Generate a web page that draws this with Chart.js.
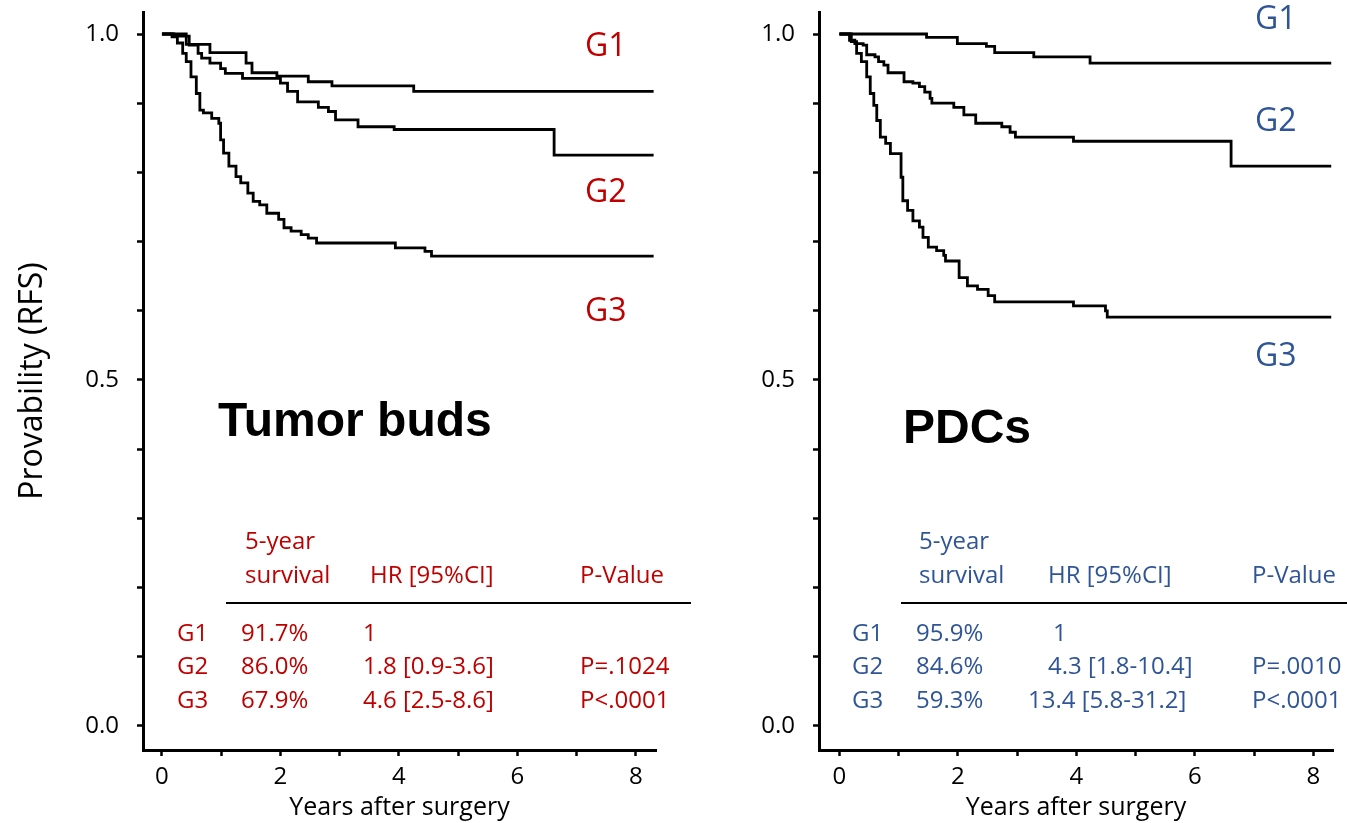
<!DOCTYPE html>
<html lang="en">
<head>
  <meta charset="UTF-8">
  <title>RFS by tumor buds and PDCs</title>
  <script src="https://cdn.jsdelivr.net/npm/chart.js"></script>
  <style>
    body { margin: 0; background: #fff; width: 1347px; height: 823px; overflow: hidden; }
    .box { position: absolute; top: 0; height: 823px; }
    #leftBox { left: 0; width: 700px; }
    #rightBox { left: 680px; width: 667px; }
  </style>
</head>
<body>

<div class="box" id="leftBox"><canvas id="budsChart"></canvas></div>
<div class="box" id="rightBox"><canvas id="pdcChart"></canvas></div>

<script>
// Tumor buds: event times (years) and survival after each step
const budsG1Time = [0, 0.41, 0.81, 1.42, 1.52, 1.94, 2.47, 2.87, 4.25, 8.3];
const budsG1Surv = [1.0, 0.985, 0.973, 0.958, 0.944, 0.939, 0.931, 0.925, 0.917, 0.917];
const budsG2Time = [0, 0.2, 0.46, 0.61, 0.67, 0.81, 0.99, 1.07, 1.36, 2.0, 2.12, 2.29, 2.64, 2.81, 2.93, 3.31, 3.92, 6.62, 8.3];
const budsG2Surv = [1.0, 0.997, 0.984, 0.972, 0.965, 0.958, 0.95, 0.943, 0.936, 0.929, 0.917, 0.902, 0.894, 0.888, 0.876, 0.866, 0.862, 0.825, 0.825];
const budsG3Time = [0, 0.17, 0.26, 0.35, 0.41, 0.49, 0.58, 0.64, 0.70, 0.84, 0.96, 0.99, 1.04, 1.13, 1.25, 1.33, 1.45, 1.54, 1.65, 1.77, 1.97, 2.06, 2.18, 2.35, 2.47, 2.61, 3.94, 4.44, 4.55, 8.3];
const budsG3Surv = [1.0, 0.996, 0.987, 0.972, 0.96, 0.938, 0.914, 0.89, 0.886, 0.878, 0.871, 0.847, 0.828, 0.809, 0.794, 0.785, 0.77, 0.758, 0.753, 0.741, 0.732, 0.72, 0.715, 0.71, 0.705, 0.698, 0.691, 0.686, 0.679, 0.679];

// PDCs
const pdcG1Time = [0, 1.47, 1.99, 2.48, 2.62, 3.28, 4.23, 8.3];
const pdcG1Surv = [1.0, 0.995, 0.986, 0.982, 0.973, 0.967, 0.958, 0.958];
const pdcG2Time = [0, 0.17, 0.26, 0.4, 0.46, 0.6, 0.66, 0.75, 0.82, 1.09, 1.24, 1.35, 1.44, 1.53, 1.56, 1.93, 2.1, 2.3, 2.74, 2.88, 2.97, 3.95, 6.61, 8.3];
const pdcG2Surv = [1.0, 0.991, 0.986, 0.984, 0.97, 0.967, 0.96, 0.955, 0.944, 0.931, 0.929, 0.924, 0.916, 0.907, 0.9, 0.894, 0.883, 0.871, 0.866, 0.858, 0.851, 0.845, 0.809, 0.809];
const pdcG3Time = [0, 0.2, 0.29, 0.37, 0.46, 0.52, 0.58, 0.63, 0.69, 0.78, 0.86, 1.04, 1.07, 1.15, 1.24, 1.35, 1.41, 1.5, 1.64, 1.76, 1.79, 2.02, 2.16, 2.33, 2.51, 2.62, 3.95, 4.49, 4.52, 8.3];
const pdcG3Surv = [1.0, 0.989, 0.972, 0.96, 0.938, 0.914, 0.897, 0.875, 0.851, 0.842, 0.827, 0.793, 0.759, 0.745, 0.73, 0.721, 0.706, 0.692, 0.687, 0.68, 0.672, 0.648, 0.636, 0.631, 0.622, 0.613, 0.607, 0.6, 0.591, 0.591];

const yTickValues = [0, 0.1, 0.2, 0.3, 0.4, 0.5, 0.6, 0.7, 0.8, 0.9, 1.0];
const yTickLabels = { 0: '0.0', 0.5: '0.5', 1: '1.0' };
const xTickValues = [0, 1, 2, 3, 4, 5, 6, 7, 8];

const groupNames = ['G1', 'G2', 'G3'];
const tableHead = ['5-year', 'survival', 'HR [95%CI]', 'P-Value'];
const budsSurv5 = ['91.7%', '86.0%', '67.9%'];
const budsHR = ['1', '1.8 [0.9-3.6]', '4.6 [2.5-8.6]'];
const budsP = ['', 'P=.1024', 'P<.0001'];
const pdcSurv5 = ['95.9%', '84.6%', '59.3%'];
const pdcHR = ['1', '4.3 [1.8-10.4]', '13.4 [5.8-31.2]'];
const pdcP = ['', 'P=.0010', 'P<.0001'];

const FONT = '"Open Sans", sans-serif';

function toPoints(ts, ss) {
  return ts.map((t, i) => ({ x: t, y: ss[i] }));
}

function kmSet(ts, ss) {
  return {
    data: toPoints(ts, ss),
    stepped: 'before',
    borderColor: '#000',
    borderWidth: 2.8,
    pointRadius: 0,
    fill: false
  };
}

// annotation text drawn after the chart (labels, title, table)
function notesPlugin(cfg) {
  return {
    id: 'notes',
    afterDraw(chart) {
      const ctx = chart.ctx;
      ctx.save();
      ctx.textBaseline = 'middle';
      ctx.textAlign = 'left';

      ctx.fillStyle = '#000';
      ctx.font = 'bold 48px "Liberation Sans", Arial, sans-serif';
      ctx.fillText(cfg.title, cfg.titleX, cfg.titleY);

      ctx.fillStyle = cfg.color;
      ctx.font = '32px ' + FONT;
      cfg.groupY.forEach((y, i) => ctx.fillText(groupNames[i], cfg.groupX, y));

      ctx.font = '24px ' + FONT;
      const c = cfg.cols;
      ctx.fillText(tableHead[0], c.head, 542);
      ctx.fillText(tableHead[1], c.head, 576);
      ctx.fillText(tableHead[2], c.hrHead, 576);
      ctx.fillText(tableHead[3], c.p, 576);

      ctx.strokeStyle = '#000';
      ctx.lineWidth = 1.8;
      ctx.beginPath();
      ctx.moveTo(c.lineL, 603);
      ctx.lineTo(c.lineR, 603);
      ctx.stroke();

      const rowY = [634, 667, 701];
      rowY.forEach((y, i) => {
        ctx.fillText(groupNames[i], c.g, y);
        ctx.fillText(cfg.surv[i], c.surv, y);
        ctx.fillText(cfg.hr[i], c.hr[i], y);
        ctx.fillText(cfg.p[i], c.p, y);
      });
      ctx.restore();
    }
  };
}

function makeChart(id, sets, opt) {
  const ctx = document.getElementById(id).getContext('2d');
  return new Chart(ctx, {
    type: 'line',
    data: { datasets: sets },
    options: {
      responsive: true,
      maintainAspectRatio: false,
      animation: false,
      events: [],
      layout: { padding: { left: 0, right: opt.padRight, top: 12, bottom: 0 } },
      plugins: { legend: { display: false }, tooltip: { enabled: false } },
      scales: {
        x: {
          type: 'linear',
          min: opt.xMin,
          max: opt.xMax,
          afterBuildTicks: s => { s.ticks = xTickValues.map(v => ({ value: v })); },
          afterFit: s => { s.height = 73; s.paddingLeft = 0; s.paddingRight = 0; },
          ticks: {
            color: '#000',
            font: { family: FONT, size: 24 },
            padding: 7,
            maxRotation: 0,
            callback: v => (v % 2 === 0 ? String(v) : '')
          },
          grid: { drawOnChartArea: false, drawTicks: true, tickLength: 6, tickColor: '#000', tickWidth: 2.5 },
          border: { color: '#000', width: 3 },
          title: {
            display: true,
            text: 'Years after surgery',
            color: '#000',
            font: { family: FONT, size: 25 },
            padding: { top: 0, bottom: 0 }
          }
        },
        y: {
          type: 'linear',
          min: -0.0347,
          max: 1.0318,
          afterBuildTicks: s => { s.ticks = yTickValues.map(v => ({ value: v })); },
          afterFit: s => { s.width = opt.yWidth; s.paddingTop = 0; s.paddingBottom = 0; },
          ticks: {
            color: '#000',
            font: { family: FONT, size: 24 },
            padding: 18,
            callback: v => yTickLabels[Math.round(v * 10) / 10] || ''
          },
          grid: { drawOnChartArea: false, drawTicks: true, tickLength: 6, tickColor: '#000', tickWidth: 2.5 },
          border: { color: '#000', width: 3 },
          title: {
            display: opt.yTitle,
            text: 'Provability (RFS)',
            color: '#000',
            font: { family: FONT, size: 32 },
            padding: { top: 14, bottom: 0 }
          }
        }
      }
    },
    plugins: [notesPlugin(opt.notes)]
  });
}

makeChart('budsChart',
  [kmSet(budsG1Time, budsG1Surv), kmSet(budsG2Time, budsG2Surv), kmSet(budsG3Time, budsG3Surv)],
  {
    padRight: 44, yWidth: 143, xMin: -0.32, xMax: 8.34, yTitle: true,
    notes: {
      title: 'Tumor buds', titleX: 218, titleY: 423,
      color: '#C00000', groupX: 585, groupY: [47, 193, 312],
      surv: budsSurv5, hr: budsHR, p: budsP,
      cols: { head: 245, hrHead: 370, p: 580, g: 177, surv: 241, hr: [363, 363, 363], lineL: 226, lineR: 691 }
    }
  });

makeChart('pdcChart',
  [kmSet(pdcG1Time, pdcG1Surv), kmSet(pdcG2Time, pdcG2Surv), kmSet(pdcG3Time, pdcG3Surv)],
  {
    padRight: 14, yWidth: 139, xMin: -0.345, xMax: 8.33, yTitle: false,
    notes: {
      title: 'PDCs', titleX: 223, titleY: 430,
      color: '#2F5597', groupX: 575, groupY: [20, 122, 357],
      surv: pdcSurv5, hr: pdcHR, p: pdcP,
      cols: { head: 239, hrHead: 368, p: 572, g: 172, surv: 236, hr: [373, 368, 348], lineL: 221, lineR: 667 }
    }
  });
</script>

</body>
</html>
